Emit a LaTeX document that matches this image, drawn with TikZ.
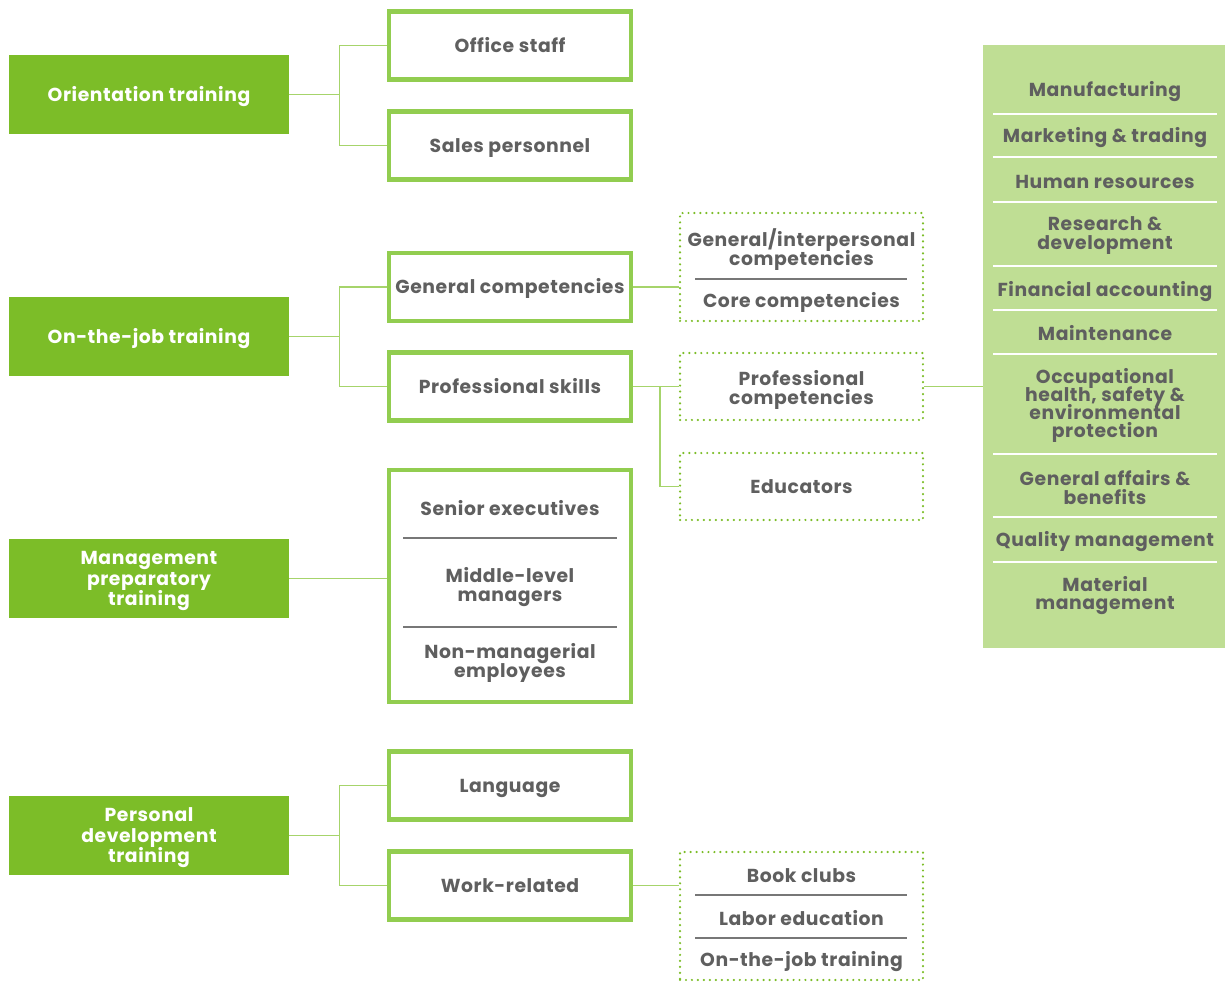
\documentclass[tikz,border=0pt]{standalone}
\usepackage{fontspec}
\setmainfont{Poppins}[LetterSpace=3]
\usetikzlibrary{backgrounds}
\definecolor{leaf}{HTML}{7CBD28}
\definecolor{frame}{HTML}{92CD50}
\definecolor{wire}{HTML}{A6D46B}
\definecolor{panel}{HTML}{BFDE94}
\definecolor{ink}{HTML}{5F5F5F}
% keep multi-line labels at a fixed, tight line pitch
\AtBeginDocument{\lineskiplimit=-20pt\relax}
\begin{document}
\begin{tikzpicture}[x=0.02cm,y=-0.02cm,
  font=\bfseries\fontsize{10.7}{10.4}\selectfont,
  catbox/.style={fill=leaf, text=white, minimum width=5.6cm, minimum height=1.58cm, align=center, inner sep=0pt,
    font=\bfseries\fontsize{10.7}{11.9}\selectfont},
  threelines/.style={text height=31.3pt, text depth=0pt},
  oneline/.style={text height=7.5pt, text depth=0pt},
  itembox/.style={draw=frame, line width=2.3pt, fill=white, text=ink, minimum width=4.84cm, minimum height=1.36cm, align=center, inner sep=0pt, oneline},
  subbox/.style={draw=leaf, line width=1.4pt, dash pattern=on 0pt off 3.4pt, line cap=round, minimum width=4.86cm, minimum height=1.34cm, text=ink, align=center, inner sep=0pt},
  wireline/.style={draw=wire, line width=0.8pt},
  seprule/.style={draw=ink!85, line width=0.6pt},
  panelrule/.style={draw=white, line width=1.1pt},
  lbl/.style={text=ink, align=center, inner sep=0pt, yshift=-0.03cm}]
\useasboundingbox (0,0) rectangle (1225,983);

% training categories
\node[catbox, oneline] (orient) at (149,94.5) {Orientation training};
\node[catbox, oneline] (onjob) at (149,336.5) {On-the-job training};
\node[catbox, threelines] (mgmt) at (149,578.5) {Management\\preparatory\\training};
\node[catbox, threelines] (personal) at (149,835.5) {Personal\\development\\training};

% second level
\node[itembox] (office) at (510,45.5) {Office staff};
\node[itembox] (sales) at (510,145.5) {Sales personnel};
\node[itembox] (general) at (510,287) {General competencies};
\node[itembox] (prof) at (510,386.5) {Professional skills};
\node[itembox, minimum height=4.64cm] (levels) at (510,586) {};
\node[lbl] (senior) at (510,507) {Senior executives};
\node[lbl] (middle) at (510,585.5) {Middle-level\\managers};
\node[lbl] (nonmgr) at (510,661.5) {Non-managerial\\employees};
\draw[seprule] (403,538) -- (617,538);
\draw[seprule] (403,627) -- (617,627);
\node[itembox] (language) at (510,785.5) {Language};
\node[itembox] (work) at (510,885.5) {Work-related};

% third level (dotted)
\node[subbox, minimum height=2.16cm] (gi) at (801.5,267) {};
\node[lbl] (interp) at (801.5,248) {General/interpersonal\\competencies};
\node[lbl] (core) at (801.5,301) {Core competencies};
\draw[seprule] (695,279) -- (907,279);
\node[subbox] (pc) at (801.5,386.5) {};
\node[lbl] (pctext) at (801.5,388.5) {Professional\\competencies};
\node[subbox, oneline] (edu) at (801.5,486.5) {Educators};
\node[subbox, minimum height=2.56cm] (extra) at (801.5,916) {};
\node[lbl] (books) at (801.5,874) {Book clubs};
\node[lbl] (labor) at (801.5,917) {Labor education};
\node[lbl] (ojt) at (801.5,960) {On-the-job training};
\draw[seprule] (695,895) -- (907,895);
\draw[seprule] (695,938) -- (907,938);

% professional areas
\node[fill=panel, minimum width=4.84cm, minimum height=12.06cm, inner sep=0pt] (areas) at (1104,346.5) {};
\node[lbl] (a1) at (1105,90) {Manufacturing};
\node[lbl] (a2) at (1105,136) {Marketing \& trading};
\node[lbl] (a3) at (1105,180) {Human resources};
\node[lbl] (a4) at (1105,234) {Research \&\\development};
\node[lbl] (a5) at (1105,290) {Financial accounting};
\node[lbl] (a6) at (1105,332) {Maintenance};
\node[lbl] (a7) at (1105,404) {Occupational\\health, safety \&\\environmental\\protection};
\node[lbl] (a8) at (1105,486) {General affairs \&\\benefits};
\node[lbl] (a9) at (1105,540) {Quality management};
\node[lbl] (a10) at (1105,594) {Material\\management};
\foreach \yy in {114,157,202,266,310,354,454,517,562}
  \draw[panelrule] (993,\yy) -- (1217,\yy);

% connectors
\begin{pgfonlayer}{background}
\draw[wireline] (orient.east) -- ++(50,0) |- (office.west);
\draw[wireline] (orient.east) -- ++(50,0) |- (sales.west);
\draw[wireline] (onjob.east) -- ++(50,0) |- (general.west);
\draw[wireline] (onjob.east) -- ++(50,0) |- (prof.west);
\draw[wireline] (mgmt.east) -- (mgmt.east -| levels.west);
\draw[wireline] (personal.east) -- ++(50,0) |- (language.west);
\draw[wireline] (personal.east) -- ++(50,0) |- (work.west);
\draw[wireline] (general.east) -- (general.east -| gi.west);
\draw[wireline] (prof.east) -- ++(27,0) |- (pc.west);
\draw[wireline] (prof.east) -- ++(27,0) |- (edu.west);
\draw[wireline] (pc.east) -- (pc.east -| areas.west);
\draw[wireline] (work.east) -- (work.east -| extra.west);
\end{pgfonlayer}
\end{tikzpicture}
\end{document}
